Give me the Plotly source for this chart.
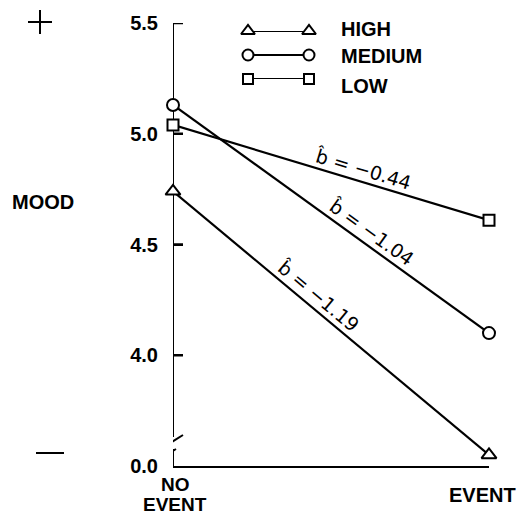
import math
import plotly.graph_objects as go

# ---------------- data ----------------
conditions = ["NO EVENT", "EVENT"]
x_pos = [0, 1]
high = [4.74, 3.55]     # plotted on broken axis (3.5 is shown as 0.0)
medium = [5.13, 4.10]
low = [5.04, 4.61]
slope_labels = ["b\u0302 = \u22121.19", "b\u0302 = \u22121.04", "b\u0302 = \u22120.44"]
label_pos = [0.435, 0.604, 0.59]
series_names = ["HIGH", "MEDIUM", "LOW"]
tick_vals = [3.5, 4.0, 4.5, 5.0, 5.5]
tick_text = ["0.0", "4.0", "4.5", "5.0", "5.5"]

# ---------------- layout geometry ----------------
W, H = 519, 514
L, R, T, B = 173, 30, 23, 48
PW, PH = W - L - R, H - T - B
YMIN, YMAX = 3.5, 5.5
FONT = "Liberation Sans"
FS = 20
SLOPE_FONT = "DejaVu Sans"
TICK_LEN = 10


def px_paper_x(px):
    return (px - L) / PW


def px_paper_y(py):
    return (H - B - py) / PH


def dpx_y(p):  # pixel distance -> y data units
    return p * (YMAX - YMIN) / PH


def dpx_x(p):
    return p / PW


fig = go.Figure()

# inside ticks on the y axis, drawn as a line trace (segments separated by None)
tx, ty = [], []
for v in tick_vals[1:]:
    tx += [0, dpx_x(TICK_LEN), None]
    ty += [v, v, None]
fig.add_trace(go.Scatter(x=tx, y=ty, mode="lines",
                         line=dict(color="black", width=2.5),
                         cliponaxis=False,
                         hoverinfo="skip", showlegend=False))

symbols = ["triangle-up", "circle", "square"]
sizes = [13, 12, 11]
series = [high, medium, low]
for name, ys, sym, sz in zip(series_names, series, symbols, sizes):
    fig.add_trace(go.Scatter(
        x=x_pos, y=ys, mode="lines+markers", name=name,
        line=dict(color="black", width=2.2),
        marker=dict(symbol=sym, size=sz, color="white",
                    line=dict(color="black", width=2)),
        cliponaxis=False, showlegend=False, xaxis="x", yaxis="y"))

# legend drawn on a small inset axis
leg_rows = [2, 1, 0]
for name, sym, sz, row in zip(series_names, symbols, sizes, leg_rows):
    fig.add_trace(go.Scatter(
        x=[0, 1], y=[row, row], mode="lines+markers",
        line=dict(color="black", width=2),
        marker=dict(symbol=sym, size=sz - 1, color="white",
                    line=dict(color="black", width=2)),
        cliponaxis=False, showlegend=False, xaxis="x2", yaxis="y2"))

shapes = []
line_style = dict(color="black", width=2)
# y axis with a break
brk_top = YMIN + dpx_y(29)
brk_bot = YMIN + dpx_y(17)
shapes.append(dict(type="line", xref="x", yref="y", x0=0, x1=0,
                   y0=YMAX, y1=brk_top, line=line_style, layer="below"))
shapes.append(dict(type="line", xref="x", yref="y", x0=0, x1=0,
                   y0=brk_bot, y1=YMIN, line=line_style, layer="below"))
shapes.append(dict(type="line", xref="x", yref="y",
                   x0=dpx_x(-6), y0=YMIN + dpx_y(21),
                   x1=dpx_x(10), y1=YMIN + dpx_y(31), line=line_style))
shapes.append(dict(type="line", xref="x", yref="y",
                   x0=dpx_x(-5), y0=YMIN + dpx_y(12),
                   x1=dpx_x(3), y1=brk_bot, line=line_style))
# + and - marks
shapes.append(dict(type="line", xref="paper", yref="paper",
                   x0=px_paper_x(28), x1=px_paper_x(52),
                   y0=px_paper_y(22), y1=px_paper_y(22), line=line_style))
shapes.append(dict(type="line", xref="paper", yref="paper",
                   x0=px_paper_x(40), x1=px_paper_x(40),
                   y0=px_paper_y(10), y1=px_paper_y(34), line=line_style))
shapes.append(dict(type="line", xref="paper", yref="paper",
                   x0=px_paper_x(36), x1=px_paper_x(64),
                   y0=px_paper_y(453), y1=px_paper_y(453), line=line_style))

annotations = []
txt = dict(family=FONT, size=FS, color="black", weight="bold")


def add_text(text, px, py, xanchor="center", size=FS):
    annotations.append(dict(text=text, xref="paper", yref="paper",
                            x=px_paper_x(px), y=px_paper_y(py),
                            xanchor=xanchor, yanchor="middle", borderpad=0,
                            showarrow=False, font=dict(txt, size=size)))


add_text("MOOD", 43, 202)
add_text("NO", 175, 484, size=19)
add_text("EVENT", 175, 504, size=19)
add_text("EVENT", 482, 495)
add_text("HIGH", 340, 29, "left")
add_text("MEDIUM", 340, 56, "left")
add_text("LOW", 340, 86, "left")

# slope labels along each line
off = 13
for ys, lab, t in zip(series, slope_labels, label_pos):
    dx_px = PW * (x_pos[1] - x_pos[0])
    dy_px = (ys[0] - ys[1]) * PH / (YMAX - YMIN)
    ang = math.atan2(dy_px, dx_px)
    yv = ys[0] + (ys[1] - ys[0]) * t
    annotations.append(dict(
        text=lab, x=t, y=yv, xref="x", yref="y", showarrow=False,
        textangle=math.degrees(ang), xanchor="center", yanchor="middle",
        xshift=off * math.sin(ang), yshift=off * math.cos(ang),
        font=dict(family=SLOPE_FONT, size=19, color="black")))

fig.update_layout(
    width=W, height=H,
    margin=dict(l=L, r=R, t=T, b=B, pad=0),
    paper_bgcolor="white", plot_bgcolor="white",
    font=dict(family=FONT, size=FS, color="black"),
    xaxis=dict(range=[0, 1], showgrid=False, zeroline=False,
               showline=True, linecolor="black", linewidth=2,
               showticklabels=False, ticks="", fixedrange=True),
    yaxis=dict(range=[YMIN, YMAX], showgrid=False, zeroline=False,
               showline=False, tickvals=tick_vals, ticktext=tick_text,
               ticks="inside", ticklen=TICK_LEN, tickwidth=2,
               tickcolor="black", ticklabelstandoff=14,
               tickfont=dict(family=FONT, size=FS, color="black",
                             weight="bold")),
    xaxis2=dict(domain=[px_paper_x(248), px_paper_x(309)], range=[0, 1],
                anchor="y2", visible=False),
    yaxis2=dict(domain=[px_paper_y(79), px_paper_y(31)], range=[0, 2],
                anchor="x2", visible=False),
    shapes=shapes, annotations=annotations, showlegend=False,
)

fig.write_html("out.html", config={"displayModeBar": False},
               post_script="document.body.style.margin='0px';"
                           "document.body.style.overflow='hidden';")
